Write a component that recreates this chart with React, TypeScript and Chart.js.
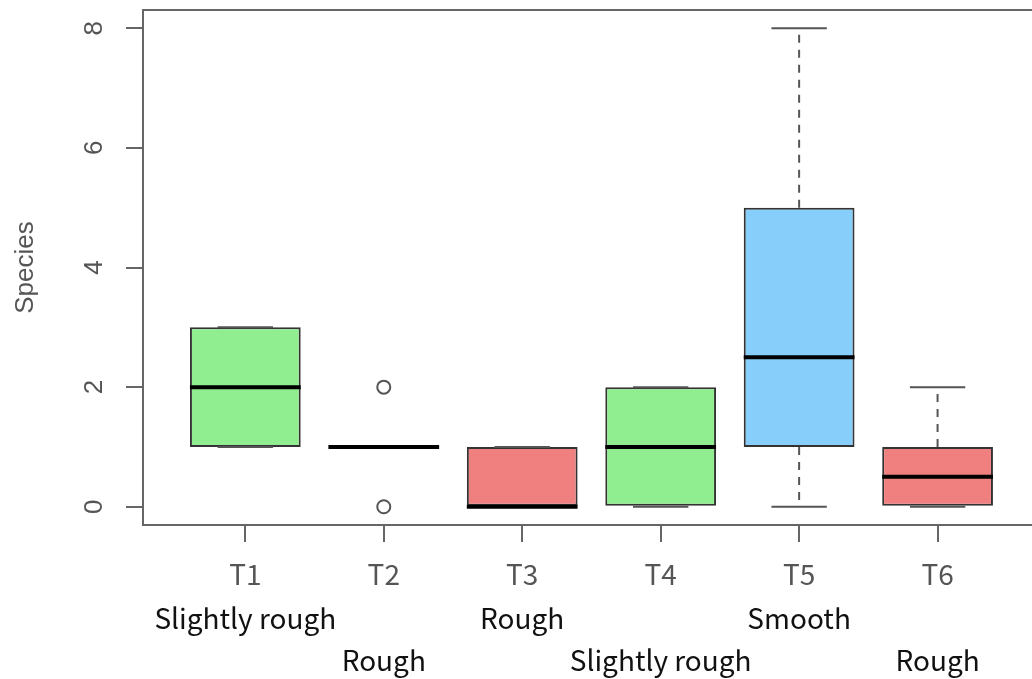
import React, { useEffect, useRef } from 'react';
import { Chart, registerables } from 'chart.js';

Chart.register(...registerables);

// ---- data ----
const groups = ['T1', 'T2', 'T3', 'T4', 'T5', 'T6'];
const surfaces = ['Slightly rough', 'Rough', 'Rough', 'Slightly rough', 'Smooth', 'Rough'];
const whiskerLow = [1, 1, 0, 0, 0, 0];
const quartile1 = [1, 1, 0, 0, 1, 0];
const medians = [2, 1, 0, 1, 2.5, 0.5];
const quartile3 = [3, 1, 1, 2, 5, 1];
const whiskerHigh = [3, 1, 1, 2, 8, 2];
const outlierGroup = [2, 2];
const outlierValue = [2, 0];
const boxFills = ['#90EE90', '#FFFFFF', '#F08080', '#90EE90', '#87CEFA', '#F08080'];
const yTickValues = [0, 2, 4, 6, 8];
const yTitle = 'Species';

const boxExtras = {
  id: 'boxExtras',
  afterDatasetsDraw(chart: any) {
    const { ctx, chartArea } = chart;
    const xs = chart.scales.x;
    const ys = chart.scales.y;
    const meta = chart.getDatasetMeta(0);
    const seg = (x1: number, y1: number, x2: number, y2: number) => {
      ctx.beginPath();
      ctx.moveTo(x1, y1);
      ctx.lineTo(x2, y2);
      ctx.stroke();
    };
    ctx.save();
    groups.forEach((_, i) => {
      const bar = meta.data[i] as any;
      const cx = xs.getPixelForValue(i + 1);
      const half = bar.width / 2;
      const capHalf = half / 2;
      const pLo = ys.getPixelForValue(whiskerLow[i]);
      const pQ1 = ys.getPixelForValue(quartile1[i]);
      const pMed = ys.getPixelForValue(medians[i]);
      const pQ3 = ys.getPixelForValue(quartile3[i]);
      const pHi = ys.getPixelForValue(whiskerHigh[i]);
      ctx.strokeStyle = '#555555';
      ctx.lineWidth = 2;
      ctx.setLineDash([8, 7]);
      if (whiskerHigh[i] > quartile3[i]) seg(cx, pQ3, cx, pHi);
      if (whiskerLow[i] < quartile1[i]) seg(cx, pQ1, cx, pLo);
      ctx.setLineDash([]);
      seg(cx - capHalf, pHi, cx + capHalf, pHi);
      seg(cx - capHalf, pLo, cx + capHalf, pLo);
      ctx.strokeStyle = '#000000';
      ctx.lineWidth = 4;
      seg(cx - half, pMed, cx + half, pMed);
    });
    // top frame line
    ctx.strokeStyle = '#666666';
    ctx.lineWidth = 2;
    seg(chartArea.left - 1, chartArea.top, chartArea.right, chartArea.top);
    // surface descriptions under group labels
    ctx.font = '28px "Noto Sans CJK JP"';
    ctx.fillStyle = '#111111';
    ctx.textAlign = 'center';
    ctx.textBaseline = 'middle';
    surfaces.forEach((s, i) => {
      const px = xs.getPixelForValue(i + 1);
      const py = chartArea.bottom + (i % 2 === 0 ? 93 : 135);
      ctx.fillText(s, px, py);
    });
    ctx.restore();
  },
};

export default function App() {
  const ref = useRef<HTMLCanvasElement | null>(null);
  useEffect(() => {
    if (!ref.current) return;
    const chart = new Chart(ref.current, {
      type: 'bar',
      data: {
        datasets: [
          {
            type: 'bar',
            data: groups.map((_, i) => ({ x: i + 1, y: [quartile1[i], quartile3[i]] })) as any,
            backgroundColor: boxFills,
            borderColor: '#333333',
            borderWidth: 2,
            borderSkipped: false,
            categoryPercentage: 1,
            barPercentage: 0.8,
          } as any,
          {
            type: 'scatter',
            data: outlierGroup.map((g, i) => ({ x: g, y: outlierValue[i] })),
            pointStyle: 'circle',
            pointRadius: 6.5,
            pointBorderWidth: 2,
            pointBorderColor: '#555555',
            pointBackgroundColor: 'rgba(0,0,0,0)',
            showLine: false,
            clip: false,
          } as any,
        ],
      },
      options: {
        responsive: false,
        animation: false,
        layout: { autoPadding: false, padding: { top: 10, left: 0, right: 0, bottom: 0 } },
        plugins: { legend: { display: false }, tooltip: { enabled: false } },
        scales: {
          x: {
            type: 'linear',
            offset: false,
            min: 0.261,
            max: 6.682,
            afterBuildTicks: (s: any) => {
              s.ticks = groups.map((_, i) => ({ value: i + 1 }));
            },
            afterFit: (s: any) => {
              s.height = 154;
              s.paddingLeft = 0;
              s.paddingRight = 0;
            },
            grid: {
              display: true,
              offset: false,
              drawOnChartArea: false,
              drawTicks: true,
              tickLength: 17,
              color: '#666666',
              lineWidth: 2,
            },
            border: { display: true, color: '#666666', width: 2 },
            ticks: {
              autoSkip: false,
              maxRotation: 0,
              padding: 16,
              color: '#555555',
              font: { family: '"Noto Sans CJK JP"', size: 28 },
              callback: (v: any) => groups[Number(v) - 1] ?? '',
            },
          },
          y: {
            type: 'linear',
            min: -0.305,
            max: 8.305,
            afterBuildTicks: (s: any) => {
              s.ticks = yTickValues.map((v) => ({ value: v }));
            },
            afterFit: (s: any) => {
              s.width = 143;
              s.paddingTop = 0;
              s.paddingBottom = 0;
            },
            grid: {
              display: true,
              drawOnChartArea: false,
              drawTicks: true,
              tickLength: 17,
              color: '#666666',
              lineWidth: 2,
            },
            border: { display: true, color: '#666666', width: 2 },
            ticks: {
              minRotation: 90,
              maxRotation: 90,
              crossAlign: 'center',
              padding: 24,
              color: '#555555',
              font: { family: '"Liberation Sans"', size: 26 },
            },
            title: {
              display: true,
              text: yTitle,
              color: '#555555',
              font: { family: '"Liberation Sans"', size: 26 },
              padding: { top: 10, bottom: 0 },
            },
          },
        },
      },
      plugins: [boxExtras],
    } as any);
    return () => chart.destroy();
  }, []);
  return (
    <div style={{ position: 'absolute', left: 0, top: 0, width: 1032, height: 679, background: '#fff' }}>
      <canvas ref={ref} width={1032} height={679} style={{ display: 'block' }} />
    </div>
  );
}
